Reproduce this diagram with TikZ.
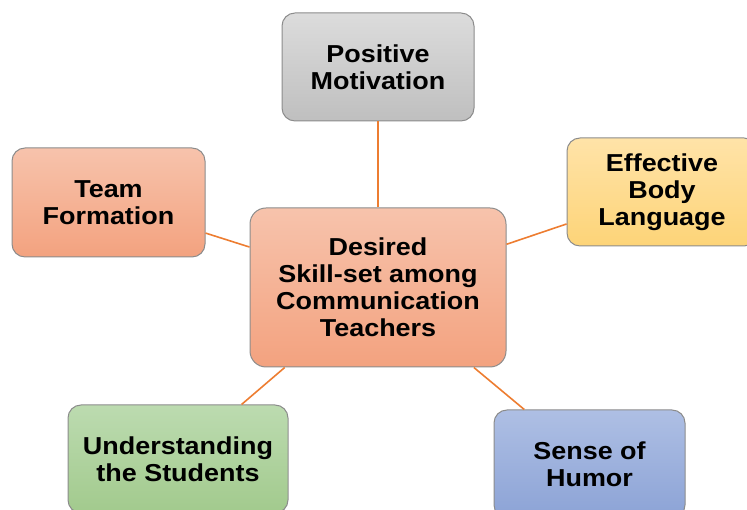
\documentclass[tikz,border=0pt]{standalone}
\usepackage{fontspec}
\setmainfont{Liberation Sans}[FakeStretch=1.1]
\definecolor{edgeor}{HTML}{ED7D31}
\definecolor{bordgray}{HTML}{8C8C8C}
\definecolor{salT}{HTML}{F7C3AC}
\definecolor{salB}{HTML}{F3A27F}
\definecolor{grayT}{HTML}{DCDCDC}
\definecolor{grayB}{HTML}{BFBFBF}
\definecolor{yelT}{HTML}{FFE3A8}
\definecolor{yelB}{HTML}{FDD478}
\definecolor{grnT}{HTML}{BCDBB0}
\definecolor{grnB}{HTML}{A2CA8D}
\definecolor{bluT}{HTML}{AEBFE4}
\definecolor{bluB}{HTML}{8CA3D6}
\tikzset{
  box/.style={draw=bordgray, line width=1pt, rounded corners=13pt, align=center,
    font=\fontsize{24.5}{27}\selectfont\bfseries, text=black, inner sep=0pt},
  conn/.style={draw=edgeor, line width=1.6pt}
}
\begin{document}
\begin{tikzpicture}[x=1pt,y=1pt]
\useasboundingbox (0,0) rectangle (747,510);
\clip (0,0) rectangle (747,510);
\node[box, top color=salT, bottom color=salB, minimum width=256pt, minimum height=159pt, rounded corners=16pt] (c) at (378,222.5) {Desired\\Skill-set among\\Communication\\Teachers};
\node[box, top color=grayT, bottom color=grayB, minimum width=192pt, minimum height=108pt] (pm) at (378,443) {Positive\\Motivation};
\node[box, top color=yelT, bottom color=yelB, minimum width=190pt, minimum height=108pt] (eb) at (662,318) {Effective\\Body\\Language};
\node[box, top color=salT, bottom color=salB, minimum width=193pt, minimum height=109pt] (tf) at (108.5,307.5) {Team\\Formation};
\node[box, top color=grnT, bottom color=grnB, minimum width=220pt, minimum height=108pt] (us) at (178,51) {Understanding\\the Students};
\node[box, top color=bluT, bottom color=bluB, minimum width=191pt, minimum height=108pt] (sh) at (589.5,46) {Sense of\\Humor};
\draw[conn] (c) -- (pm);
\draw[conn] (c) -- (eb);
\draw[conn] (c) -- (tf);
\draw[conn] (c) -- (us);
\draw[conn] (c) -- (sh);
\end{tikzpicture}
\end{document}
